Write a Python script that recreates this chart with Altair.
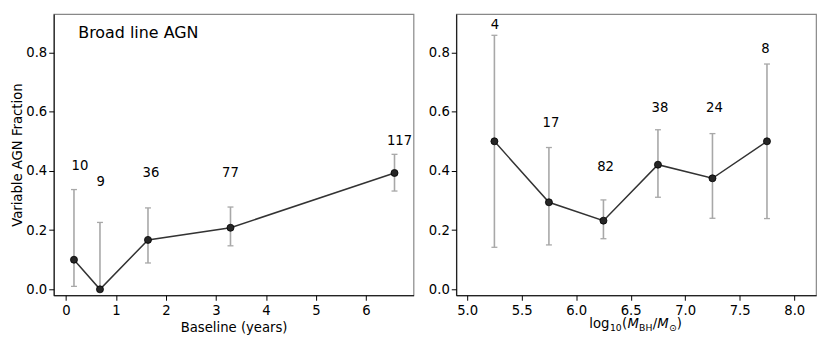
import altair as alt
import pandas as pd

# ---- Left panel: Broad line AGN vs baseline ----
baseline_x = [0.16, 0.68, 1.64, 3.29, 6.57]
frac_left = [0.100, 0.000, 0.167, 0.208, 0.393]
lo_left = [0.010, 0.000, 0.089, 0.147, 0.332]
hi_left = [0.337, 0.226, 0.275, 0.278, 0.456]
n_left = ["10", "9", "36", "77", "117"]
lab_x_left = [0.28, 0.695, 1.70, 3.29, 6.67]
lab_y_left = [0.415, 0.362, 0.392, 0.392, 0.502]

# ---- Right panel: vs black hole mass ----
mass_x = [5.25, 5.75, 6.25, 6.75, 7.25, 7.75]
frac_right = [0.500, 0.294, 0.232, 0.421, 0.375, 0.500]
lo_right = [0.142, 0.150, 0.171, 0.311, 0.240, 0.239]
hi_right = [0.858, 0.479, 0.302, 0.539, 0.526, 0.761]
n_right = ["4", "17", "82", "38", "24", "8"]
lab_x_right = [5.255, 5.769, 6.27, 6.769, 7.268, 7.735]
lab_y_right = [0.893, 0.562, 0.413, 0.612, 0.612, 0.813]

y_ticks = [0.0, 0.2, 0.4, 0.6, 0.8]
left_x_ticks = [0, 1, 2, 3, 4, 5, 6]
right_x_ticks = [5.0, 5.5, 6.0, 6.5, 7.0, 7.5, 8.0]

FONT = "DejaVu Sans"
FS = 13.3
W, H = 362, 283
ERR = "#a8a8a8"

left_df = pd.DataFrame({"x": baseline_x, "f": frac_left, "lo": lo_left, "hi": hi_left,
                        "n": n_left, "lx": lab_x_left, "ly": lab_y_left})
right_df = pd.DataFrame({"x": mass_x, "f": frac_right, "lo": lo_right, "hi": hi_right,
                         "n": n_right, "lx": lab_x_right, "ly": lab_y_right})


def panel(df, xdom, xticks, xfmt, xtitle, ytitle):
    xs = alt.Scale(domain=xdom, nice=False, zero=False)
    ys = alt.Scale(domain=[-0.02, 0.93], nice=False, zero=False)
    xax = alt.Axis(values=xticks, format=xfmt, title=xtitle, labelPadding=3) if xtitle else alt.Axis(values=xticks, format=xfmt, title=None, labelPadding=3)
    yax = alt.Axis(values=y_ticks, format=".1f", title=ytitle, titlePadding=1) if ytitle else alt.Axis(values=y_ticks, format=".1f", title=None)
    base = alt.Chart(df)
    err = base.mark_rule(color=ERR, strokeWidth=1.6).encode(
        x=alt.X("x:Q", scale=xs, axis=xax),
        y=alt.Y("lo:Q", scale=ys, axis=yax),
        y2="hi:Q",
    )
    cap_lo = base.mark_tick(orient="horizontal", color=ERR, size=6, thickness=1.3, opacity=1).encode(
        x=alt.X("x:Q", scale=xs), y=alt.Y("lo:Q", scale=ys))
    cap_hi = base.mark_tick(orient="horizontal", color=ERR, size=6, thickness=1.3, opacity=1).encode(
        x=alt.X("x:Q", scale=xs), y=alt.Y("hi:Q", scale=ys))
    line = base.mark_line(color="#333333", strokeWidth=1.5).encode(
        x=alt.X("x:Q", scale=xs), y=alt.Y("f:Q", scale=ys))
    pts = base.mark_circle(size=50, color="#262626", opacity=1, stroke="black", strokeWidth=0.8).encode(
        x=alt.X("x:Q", scale=xs), y=alt.Y("f:Q", scale=ys))
    txt = base.mark_text(font=FONT, fontSize=FS, fontWeight="normal", color="black",
                         align="center", baseline="middle").encode(
        x=alt.X("lx:Q", scale=xs), y=alt.Y("ly:Q", scale=ys), text="n:N")
    return [err, cap_lo, cap_hi, line, pts, txt]


one_row = pd.DataFrame({"k": [0]})

left_layers = panel(left_df, [-0.245, 6.95], left_x_ticks, "d", "Baseline (years)", "Variable AGN Fraction")
title_txt = alt.Chart(one_row).mark_text(font=FONT, fontSize=16, fontWeight="normal", color="black",
                                         align="left", baseline="middle", text="Broad line AGN").encode(
    x=alt.value(24.7), y=alt.value(18.7))
left = alt.layer(*left_layers, title_txt).properties(width=W, height=H)

right_layers = panel(right_df, [4.9, 8.2], right_x_ticks, ".1f", None, None)

# x-axis title composed as math text: log10(M_BH / M_sun)
title_pieces = [
    ("log", 133.8, FS, "normal", 315.5),
    ("10", 154.6, FS * 0.7, "normal", 318.5),
    ("(", 166.8, FS, "normal", 315.5),
    ("M", 172.2, FS, "italic", 315.5),
    ("BH", 184.0, FS * 0.7, "normal", 318.5),
    ("/", 197.6, FS, "normal", 315.5),
    ("M", 202.2, FS, "italic", 315.5),
    ("\u2299", 214.0, FS * 0.7, "normal", 318.5),
    (")", 221.8, FS, "normal", 315.5),
]
xt_marks = []
for s, px, fs, style, py in title_pieces:
    xt_marks.append(
        alt.Chart(one_row).mark_text(font=FONT, fontSize=fs, fontStyle=style, fontWeight="normal",
                                     color="black", align="left", baseline="alphabetic", text=s).encode(
            x=alt.value(px), y=alt.value(py))
    )
right = alt.layer(*right_layers, *xt_marks).properties(width=W, height=H)

chart = alt.hconcat(left, right, spacing=13).properties(
    padding={"left": 2, "top": 4, "right": 5, "bottom": 5}
).configure_axis(
    labelFont=FONT, labelFontSize=FS, titleFont=FONT, titleFontSize=FS, titleFontWeight="normal",
    labelColor="black", titleColor="black", tickColor="black", domainColor="black",
    grid=False, tickSize=5, labelPadding=2, labelFlush=False, titlePadding=4,
).configure_view(stroke="#888888", strokeWidth=1.2)

chart.save("out.html", embed_options={"renderer": "svg", "actions": False})
